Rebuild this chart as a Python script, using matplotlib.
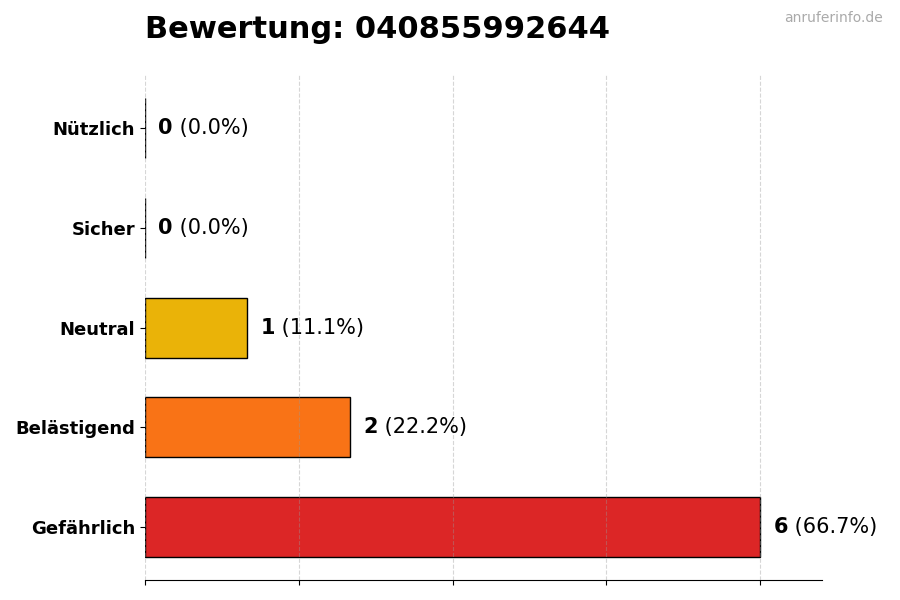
import matplotlib.pyplot as plt
import numpy as np

categories = ["Gefährlich", "Belästigend", "Neutral", "Sicher", "Nützlich"]
counts = [6, 2, 1, 0, 0]
colors = ["#dc2626", "#f97316", "#eab308", "#22c55e", "#16a34a"]
title = "Bewertung: 040855992644"

total = sum(counts)
fig = plt.figure(figsize=(9, 6), dpi=100)
ax = fig.add_axes([0.161, 0.033, 0.752, 0.842])

y = np.arange(len(categories))
ax.barh(y, counts, height=0.6, color=colors, edgecolor="black", linewidth=1, zorder=2)

ax.set_xlim(0, max(counts) * 1.1)
ax.set_ylim(-0.53, len(categories) - 1 + 0.53)
ax.set_xticks(np.arange(0, max(counts) + 0.01, 1.5))
ax.set_xticklabels([])
ax.set_yticks(y)
ax.set_yticklabels(categories, fontsize=13, fontweight="bold")
ax.grid(axis="x", linestyle="--", color="#999999", alpha=0.4, linewidth=0.8, zorder=3)
ax.set_axisbelow(False)
for s in ["top", "right", "left"]:
    ax.spines[s].set_visible(False)

off = max(counts) * 0.02
for yi, c in zip(y, counts):
    pct = c / total * 100
    t = ax.text(c + off + 0.01, yi, f"{c}", fontsize=15, fontweight="bold", va="center", ha="left")
    ax.annotate(f" ({pct:.1f}%)", xycoords=t, xy=(1, 0.5), va="center", ha="left", fontsize=15)

fig.text(0.161, 0.95, title, fontsize=22, fontweight="bold", ha="left", va="center")
fig.text(0.981, 0.97, "anruferinfo.de", fontsize=10, color="#aaaaaa", ha="right", va="center")

fig.savefig("out.png", dpi=100)
